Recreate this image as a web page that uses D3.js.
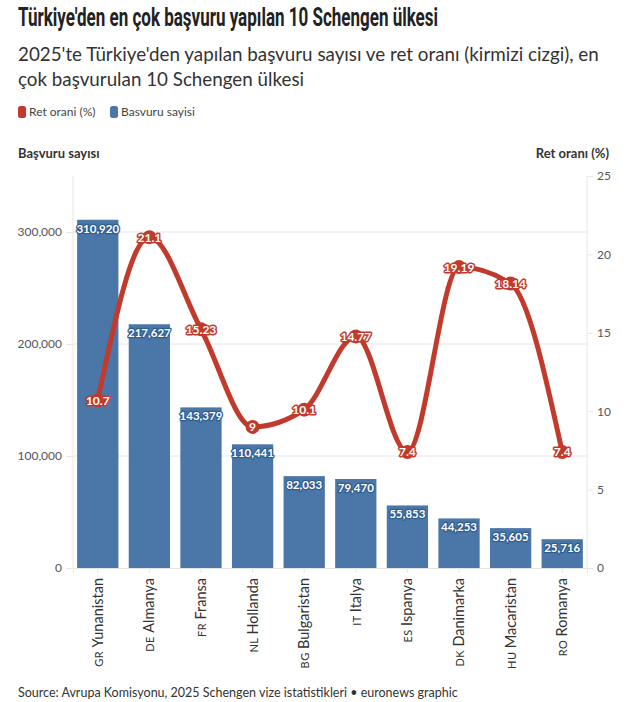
<!DOCTYPE html>
<html><head><meta charset="utf-8">
<script src="https://cdn.jsdelivr.net/npm/d3@7"></script>
<style>
body{margin:0;background:#fff;}
svg{display:block;}
</style></head>
<body>
<script>
const codes = ["GR","DE","FR","NL","BG","IT","ES","DK","HU","RO"];
const countries = ["Yunanistan","Almanya","Fransa","Hollanda","Bulgaristan","Italya","Ispanya","Danimarka","Macaristan","Romanya"];
const applications = [310920,217627,143379,110441,82033,79470,55853,44253,35605,25716];
const refusalRate = [10.7,21.1,15.23,9,10.1,14.77,7.4,19.19,18.14,7.4];
const leftTicks = [0,100000,200000,300000];
const rightTicks = [0,5,10,15,20,25];

const W=642,H=702;
const font="'Source Sans Pro','Lato','Noto Sans',sans-serif";
const blue="#4a76a8", red="#c13a2b";
const svg=d3.select("body").append("svg").attr("width",W).attr("height",H);

svg.append("text").attr("x",18).attr("y",26).attr("font-family","Roboto,'Noto Sans',sans-serif").attr("font-weight","bold")
  .attr("font-size",25).attr("fill","#222").attr("textLength",420).attr("lengthAdjust","spacingAndGlyphs")
  .text("Türkiye'den en çok başvuru yapılan 10 Schengen ülkesi");
const sub=["2025'te Türkiye'den yapılan başvuru sayısı ve ret oranı (kirmizi cizgi), en","çok başvurulan 10 Schengen ülkesi"];
sub.forEach((s,i)=>svg.append("text").attr("x",18).attr("y",61+i*25).attr("font-family",font)
  .attr("font-size",18.8).attr("fill","#333").text(s));

// legend
const leg=[{c:red,t:"Ret orani (%)",x:18},{c:blue,t:"Basvuru sayisi",x:110}];
leg.forEach(l=>{
  svg.append("rect").attr("x",l.x).attr("y",106).attr("width",8).attr("height",12).attr("rx",2.5).attr("fill",l.c);
  svg.append("text").attr("x",l.x+11).attr("y",116).attr("font-family",font).attr("font-size",12).attr("fill","#444").text(l.t);
});

svg.append("text").attr("x",18).attr("y",158).attr("font-family",font).attr("font-weight","bold")
  .attr("font-size",13).attr("fill","#333").text("Başvuru sayısı");
svg.append("text").attr("x",609).attr("y",158).attr("text-anchor","end").attr("font-family",font).attr("font-weight","bold")
  .attr("font-size",13).attr("fill","#333").text("Ret oranı (%)");

const x0=73,x1=587,yTop=176,yBot=568;
const x=d3.scaleBand().domain(codes).range([x0,x1]).paddingInner(0.2).paddingOuter(0.08);
const yL=d3.scaleLinear().domain([0,350000]).range([yBot,yTop]);
const yR=d3.scaleLinear().domain([0,25]).range([yBot,yTop]);

// grid
svg.append("g").selectAll("line").data(leftTicks.slice(1)).join("line")
  .attr("x1",x0).attr("x2",x1).attr("y1",d=>yL(d)).attr("y2",d=>yL(d)).attr("stroke","#e6e6e6");

// left axis
const gl=svg.append("g").attr("transform",`translate(${x0},0)`)
  .call(d3.axisLeft(yL).tickValues(leftTicks).tickFormat(d3.format(",")).tickSize(7).tickPadding(4));
gl.select(".domain").attr("stroke","#e6e6e6").attr("d",`M0,${yTop}V${yBot}`);
gl.selectAll(".tick line").attr("stroke","#e6e6e6");
gl.selectAll(".tick text").attr("font-family",font).attr("font-size",12).attr("fill","#555");

// right axis
const gr=svg.append("g").attr("transform",`translate(${x1},0)`)
  .call(d3.axisRight(yR).tickValues(rightTicks).tickSize(6).tickPadding(4));
gr.select(".domain").attr("stroke","#e6e6e6").attr("d",`M0,${yTop}V${yBot}`);
gr.selectAll(".tick line").attr("stroke","#e6e6e6");
gr.selectAll(".tick text").attr("font-family",font).attr("font-size",12).attr("fill","#555");

// bars
svg.append("g").selectAll("rect").data(codes).join("rect")
  .attr("x",d=>x(d)).attr("width",x.bandwidth())
  .attr("y",(d,i)=>yL(applications[i])).attr("height",(d,i)=>yBot-yL(applications[i]))
  .attr("fill",blue);

// bottom axis
const gb=svg.append("g").attr("transform",`translate(0,${yBot})`)
  .call(d3.axisBottom(x).tickSize(5).tickFormat(""));
gb.select(".domain").attr("stroke","#e6e6e6");
gb.selectAll(".tick line").attr("stroke","#e6e6e6");
const xl=svg.append("g").selectAll("text").data(codes).join("text")
  .attr("transform",d=>`translate(${x(d)+x.bandwidth()/2+5},${yBot+10}) rotate(-90)`)
  .attr("text-anchor","end").attr("font-family",font).attr("fill","#333");
xl.append("tspan").attr("font-size",11).attr("letter-spacing",0.5).text(d=>d+" ");
xl.append("tspan").attr("font-size",14.5).text((d,i)=>countries[i]);

// bar labels
svg.append("g").selectAll("text").data(codes).join("text")
  .attr("x",d=>x(d)+x.bandwidth()/2).attr("y",(d,i)=>yL(applications[i])+13)
  .attr("text-anchor","middle").attr("font-family",font).attr("font-weight","bold").attr("font-size",11.5)
  .attr("fill","#fff").attr("stroke","#2f5d90").attr("stroke-width",2.5).attr("paint-order","stroke")
  .attr("stroke-linejoin","round").text((d,i)=>d3.format(",")(applications[i]));

// line
const cx=d=>x(d)+x.bandwidth()/2;
const line=d3.line().x(d=>cx(d)).y((d,i)=>yR(refusalRate[i])).curve(d3.curveMonotoneX);
svg.append("path").datum(codes).attr("d",line).attr("fill","none").attr("stroke",red).attr("stroke-width",5);
svg.append("g").selectAll("circle").data(codes).join("circle")
  .attr("cx",cx).attr("cy",(d,i)=>yR(refusalRate[i])).attr("r",7).attr("fill",red);
svg.append("g").selectAll("text").data(codes).join("text")
  .attr("x",cx).attr("y",(d,i)=>yR(refusalRate[i])+4.5)
  .attr("text-anchor","middle").attr("font-family",font).attr("font-weight","bold").attr("font-size",12)
  .attr("fill","#fff").attr("stroke",red).attr("stroke-width",3).attr("paint-order","stroke")
  .attr("stroke-linejoin","round").text((d,i)=>refusalRate[i]);

svg.append("text").attr("x",18).attr("y",697).attr("font-family",font).attr("font-size",12.5).attr("fill","#333")
  .text("Source: Avrupa Komisyonu, 2025 Schengen vize istatistikleri • euronews graphic");
</script>
</body></html>
